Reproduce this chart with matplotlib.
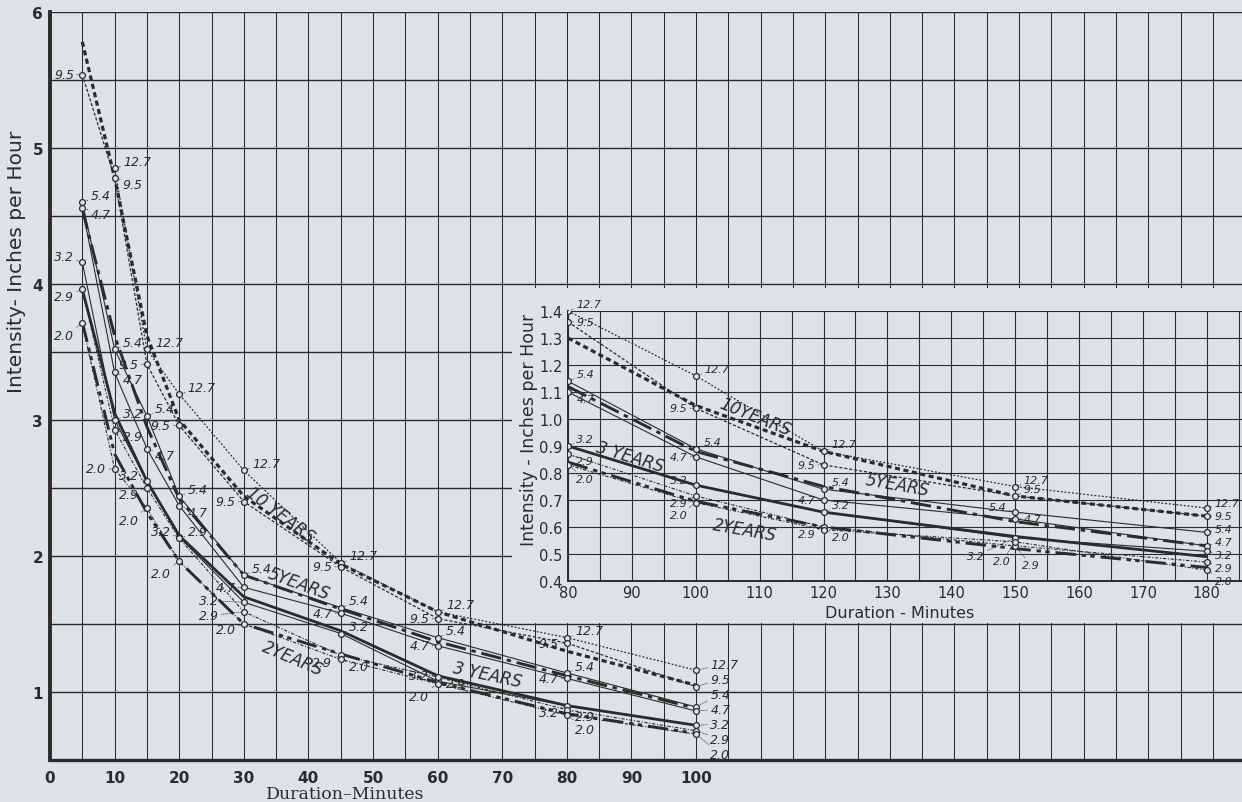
import numpy as np
import matplotlib
matplotlib.use("Agg")
import matplotlib.pyplot as plt
from matplotlib.patches import Rectangle

# ---------------- data ----------------
durations = [5, 10, 15, 20, 30, 45, 60, 80, 100, 120, 150, 180]

# fitted frequency curves (inches per hour)
fit_10yr = [5.78, 4.78, 3.62, 3.00, 2.44, 1.94, 1.59, 1.30, 1.05, 0.88, 0.715, 0.64]
fit_5yr = [4.55, 3.62, 2.95, 2.42, 1.86, 1.61, 1.37, 1.12, 0.88, 0.75, 0.62, 0.53]
fit_3yr = [3.96, 3.05, 2.55, 2.15, 1.70, 1.45, 1.12, 0.90, 0.755, 0.655, 0.565, 0.49]
fit_2yr = [3.72, 2.75, 2.32, 1.96, 1.50, 1.28, 1.07, 0.84, 0.695, 0.60, 0.52, 0.45]
curve_names = ["10 YEARS", "5 YEARS", "3 YEARS", "2 YEARS"]

# observed points, labelled by their frequency value
obs_labels = ["12.7", "9.5", "5.4", "4.7", "3.2", "2.9", "2.0"]
obs_127 = [np.nan, 4.85, 3.52, 3.19, 2.63, 1.95, 1.59, 1.40, 1.16, 0.88, 0.75, 0.67]
obs_95 = [5.54, 4.78, 3.41, 2.96, 2.40, 1.92, 1.54, 1.36, 1.04, 0.83, 0.715, 0.64]
obs_54 = [4.60, 3.52, 3.03, 2.44, 1.86, 1.62, 1.40, 1.14, 0.89, 0.74, 0.655, 0.58]
obs_47 = [4.56, 3.35, 2.79, 2.37, 1.77, 1.58, 1.34, 1.10, 0.86, 0.70, 0.63, 0.53]
obs_32 = [4.16, 3.00, 2.55, 2.14, 1.66, 1.43, 1.08, 0.90, 0.755, 0.655, 0.56, 0.51]
obs_29 = [3.96, 2.93, 2.50, 2.13, 1.59, 1.27, 1.11, 0.87, 0.715, 0.60, 0.53, 0.47]
obs_20 = [3.71, 2.64, 2.35, 1.96, 1.50, 1.24, 1.06, 0.83, 0.69, 0.59, 0.545, 0.44]

main_xticks = list(range(0, 101, 10))
main_yticks = [1, 2, 3, 4, 5, 6]
inset_xticks = list(range(80, 181, 10))
inset_yticks = [0.4, 0.5, 0.6, 0.7, 0.8, 0.9, 1.0, 1.1, 1.2, 1.3, 1.4]

# ---------------- style ----------------
PAPER = "#dde2e7"
INK = "#2b2b2b"
W, H = 1242, 803

fits = [fit_10yr, fit_5yr, fit_3yr, fit_2yr]
fit_styles = [
    dict(lw=2.3, dashes=(1.6, 1.1)),
    dict(lw=2.1, dashes=(7, 2, 1.5, 2)),
    dict(lw=2.0, linestyle="-"),
    dict(lw=2.1, dashes=(7, 2, 1.5, 1.5, 1.5, 2)),
]
obs = [obs_127, obs_95, obs_54, obs_47, obs_32, obs_29, obs_20]
obs_styles = [
    dict(lw=0.9, dashes=(1.5, 1.5)),
    dict(lw=0.9, dashes=(2.5, 1.5)),
    dict(lw=0.8, linestyle="-"),
    dict(lw=0.8, linestyle="-"),
    dict(lw=0.8, linestyle="-"),
    dict(lw=0.8, dashes=(3, 1.5, 1, 1.5)),
    dict(lw=0.8, dashes=(3, 1.5, 1, 1.5)),
]
# label offsets (points): defaults and per-(label, duration) overrides
R_UP, R, R_DN, R_DN2 = (6, 5), (6, 0), (6, -5), (6, -10)
L_UP, L, L_DN, L_DN2 = (-6, 4), (-6, 0), (-6, -5), (-6, -9)
lab_off = {"12.7": R_UP, "9.5": L, "5.4": R_UP, "4.7": L,
           "3.2": L_UP, "2.9": L_DN, "2.0": L_DN2}
lab_override = {
    ("5.4", 5): R_UP, ("4.7", 5): R_DN,
    ("9.5", 10): R_DN, ("4.7", 10): R_DN, ("3.2", 10): R_UP, ("2.9", 10): R_DN, ("2.0", 10): L,
    ("4.7", 15): R_DN, ("4.7", 20): R_DN, ("2.9", 20): R_UP,
    ("3.2", 30): (-18, 1), ("2.9", 30): (-18, -3), ("2.0", 30): (-6, -4),
    ("3.2", 45): R_UP, ("2.0", 45): R_DN,
    ("2.9", 60): R_DN,
    ("2.9", 80): R_DN, ("2.0", 80): R_DN2, ("3.2", 80): L_DN,
    ("12.7", 120): R_UP, ("3.2", 120): R_UP, ("2.0", 120): R_DN,
    ("9.5", 150): R_UP, ("5.4", 150): L_UP, ("4.7", 150): R,
    ("3.2", 150): (-22, -13), ("2.0", 150): (-3, -14), ("2.9", 150): (5, -14),
}
inset80_off = {"12.7": R_UP, "9.5": R, "5.4": R_UP, "4.7": R_DN,
               "3.2": R_UP, "2.9": R_DN, "2.0": R_DN2}


def frac(x0, y0, x1, y1):
    return [x0 / W, 1 - y1 / H, (x1 - x0) / W, (y1 - y0) / H]


fig = plt.figure(figsize=(W / 100, H / 100), dpi=100, facecolor=PAPER)

# ---------------- main axes ----------------
ax = fig.add_axes(frac(50, 13, 1242, 761))
ax.set_facecolor(PAPER)
ax.set_xlim(0, 184.5)
ax.set_ylim(0.5, 6)
ax.set_xticks(main_xticks)
ax.set_xticks(np.arange(5, 185, 5), minor=True)
ax.set_yticks(main_yticks)
ax.set_yticks(np.arange(0.5, 6.01, 0.5), minor=True)
ax.grid(which="both", axis="x", color=INK, lw=0.75)
ax.grid(which="both", axis="y", color=INK, lw=1.0)
ax.set_axisbelow(True)
ax.tick_params(which="both", length=0)
ax.tick_params(axis="x", pad=7, labelsize=11, labelcolor=INK)
ax.tick_params(axis="y", pad=5, labelsize=11, labelcolor=INK)
for t in ax.get_yticklabels() + ax.get_xticklabels():
    t.set_fontweight("bold")
for s in ["top", "right"]:
    ax.spines[s].set_visible(False)
ax.spines["left"].set_linewidth(2.8)
ax.spines["bottom"].set_linewidth(2.4)
ax.spines["left"].set_color(INK)
ax.spines["bottom"].set_color(INK)

d_arr = np.array(durations, dtype=float)
m_main = d_arr <= 100
m_ins = d_arr >= 80

for vals, st in zip(fits, fit_styles):
    v = np.array(vals)
    ax.plot(d_arr[m_main], v[m_main], color=INK, solid_capstyle="butt", zorder=4, **st)

ARROW = dict(arrowstyle="-", lw=0.5, color=INK, ls=":", shrinkA=0, shrinkB=2)


def draw_obs(a, mask, first_off, last_d, step, xshift, fs):
    for lab, vals, st in zip(obs_labels, obs, obs_styles):
        v = np.array(vals)
        ok = mask & ~np.isnan(v)
        a.plot(d_arr[ok], v[ok], color=INK, zorder=3, **st)
        a.plot(d_arr[ok], v[ok], "o", ms=4.2, mfc=PAPER, mec=INK, mew=0.9, zorder=5)
    first_d = d_arr[mask][0]
    for j, d in enumerate(durations):
        if not mask[j]:
            continue
        col = [(lab, obs[i][j]) for i, lab in enumerate(obs_labels) if not np.isnan(obs[i][j])]
        if d == last_d:
            top = max(v for _, v in col)
            for k, (lab, v) in enumerate(sorted(col, key=lambda t: -t[1])):
                a.annotate(lab, xy=(d, v), xytext=(d + xshift, top + step * 0.4 - k * step),
                           textcoords="data", fontsize=fs, style="italic", color=INK,
                           va="center", ha="left", zorder=6, arrowprops=ARROW)
        else:
            for lab, v in col:
                if first_off is not None and d == first_d:
                    dx, dy = first_off[lab]
                else:
                    dx, dy = lab_override.get((lab, d), lab_off[lab])
                a.annotate(lab, xy=(d, v), xytext=(dx, dy), textcoords="offset points",
                           fontsize=fs, style="italic", color=INK,
                           ha="left" if dx > 0 else "right", va="center", zorder=6,
                           arrowprops=ARROW)


draw_obs(ax, m_main, None, 100, 0.11, 2.2, 9)

# curve labels, main
lab_pos_main = [(35.6, 2.31, -37), (38.5, 1.80, -20), (67.6, 1.13, -12), (37.5, 1.25, -23)]
for name, (x, y, r) in zip(curve_names, lab_pos_main):
    ax.text(x, y, name.replace("5 Y", "5Y").replace("2 Y", "2Y"), rotation=r,
            ha="center", va="center", fontsize=12, style="italic", color=INK, zorder=6)

fig.text(17 / W, 1 - 262 / H, "Intensity- Inches per Hour", rotation=90,
         ha="center", va="center", fontsize=14.5, color=INK)
fig.text(345 / W, 1 - 795 / H, "Duration\u2013Minutes", ha="center", va="center",
         fontsize=12.5, family="DejaVu Serif", color=INK)

# ---------------- inset ----------------
fig.patches.append(Rectangle((512 / W, 1 - 624 / H), 730 / W, 335 / H,
                             transform=fig.transFigure, facecolor=PAPER,
                             edgecolor="none", zorder=1))
ins = fig.add_axes(frac(568, 312, 1242, 582))
ins.set_zorder(2)
ins.set_facecolor(PAPER)
ins.set_xlim(80, 185.5)
ins.set_ylim(0.4, 1.4)
ins.set_xticks(inset_xticks)
ins.set_xticks(np.arange(85, 186, 5), minor=True)
ins.set_yticks(inset_yticks)
ins.set_yticklabels([f"{t:.1f}" for t in inset_yticks])
ins.grid(which="both", color=INK, lw=0.8)
ins.set_axisbelow(True)
ins.tick_params(which="both", length=0, labelsize=10.5, labelcolor=INK)
ins.tick_params(axis="x", pad=3)
ins.tick_params(axis="y", pad=4)
for s in ["top", "right"]:
    ins.spines[s].set_visible(False)
ins.spines["left"].set_linewidth(1.4)
ins.spines["bottom"].set_linewidth(1.4)
ins.spines["left"].set_color(INK)
ins.spines["bottom"].set_color(INK)

for vals, st in zip(fits, fit_styles):
    v = np.array(vals)
    ins.plot(d_arr[m_ins], v[m_ins], color=INK, solid_capstyle="butt", zorder=4, **st)

draw_obs(ins, m_ins, inset80_off, 180, 0.048, 1.2, 8)

lab_pos_ins = [(109.3, 1.01, -22), (131.5, 0.755, -10), (89.7, 0.86, -17), (107.7, 0.59, -10)]
for name, (x, y, r) in zip(curve_names, lab_pos_ins):
    ins.text(x, y, name.replace("10 Y", "10Y").replace("5 Y", "5Y").replace("2 Y", "2Y"),
             rotation=r, ha="center", va="center", fontsize=12, style="italic",
             color=INK, zorder=6)

fig.text(529 / W, 1 - 430 / H, "Intensity - Inches per Hour", rotation=90,
         ha="center", va="center", fontsize=12.5, color=INK)
fig.text(900 / W, 1 - 614 / H, "Duration - Minutes", ha="center", va="center",
         fontsize=11.5, color=INK)

fig.savefig("out.png", dpi=100, facecolor=PAPER)
